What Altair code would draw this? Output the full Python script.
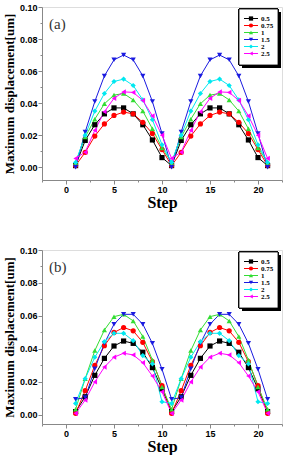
import altair as alt
import pandas as pd

# Step index shared by both panels
steps = list(range(1, 22))

series = ["0.5", "0.75", "1", "1.5", "2", "2.5"]
colors = ["#000000", "#ff0000", "#33dd33", "#1a1ae0", "#00e8f0", "#ff00ff"]
shapes = ["square", "circle", "triangle-up", "triangle-down", "diamond", "triangle-left"]

# Panel (a): maximum displacement [um] per step
a_05 = [0.001, 0.0167, 0.0265, 0.0333, 0.037, 0.037, 0.0333, 0.0265, 0.017, 0.006, 0.001,
        0.0167, 0.0265, 0.0333, 0.037, 0.037, 0.0333, 0.0265, 0.017, 0.006, 0.001]
a_075 = [0.001, 0.0093, 0.0194, 0.027, 0.0323, 0.0344, 0.0333, 0.028, 0.021, 0.011, 0.001,
         0.0093, 0.0194, 0.027, 0.0323, 0.0344, 0.0333, 0.028, 0.021, 0.011, 0.001]
a_1 = [0.003, 0.0188, 0.030, 0.0396, 0.045, 0.046, 0.042, 0.035, 0.024, 0.012, 0.003,
       0.0188, 0.030, 0.0396, 0.045, 0.046, 0.042, 0.035, 0.024, 0.012, 0.003]
a_15 = [0.0, 0.022, 0.041, 0.057, 0.067, 0.070, 0.067, 0.057, 0.041, 0.021, 0.0,
        0.022, 0.041, 0.057, 0.067, 0.070, 0.067, 0.057, 0.041, 0.021, 0.0]
a_2 = [0.003, 0.020, 0.035, 0.046, 0.0535, 0.055, 0.051, 0.042, 0.0296, 0.014, 0.003,
       0.020, 0.035, 0.046, 0.0535, 0.055, 0.051, 0.042, 0.0296, 0.014, 0.003]
a_25 = [0.0055, 0.0094, 0.023, 0.0346, 0.043, 0.047, 0.0467, 0.0417, 0.032, 0.020, 0.0055,
        0.0094, 0.023, 0.0346, 0.043, 0.047, 0.0467, 0.0417, 0.032, 0.020, 0.0055]

# Panel (b)
b_05 = [0.002, 0.011, 0.024, 0.0343, 0.0418, 0.0448, 0.0434, 0.038, 0.0287, 0.0158, 0.002,
        0.011, 0.024, 0.0343, 0.0418, 0.0448, 0.0434, 0.038, 0.0287, 0.0158, 0.002]
b_075 = [0.001, 0.0147, 0.030, 0.042, 0.050, 0.053, 0.051, 0.044, 0.0323, 0.0178, 0.001,
         0.0147, 0.030, 0.042, 0.050, 0.053, 0.051, 0.044, 0.0323, 0.0178, 0.001]
b_1 = [0.0034, 0.022, 0.039, 0.0515, 0.0596, 0.061, 0.057, 0.0475, 0.0333, 0.017, 0.0034,
       0.022, 0.039, 0.0515, 0.0596, 0.061, 0.057, 0.0475, 0.0333, 0.017, 0.0034]
b_15 = [0.0095, 0.0105, 0.028, 0.0434, 0.055, 0.061, 0.061, 0.055, 0.0434, 0.0277, 0.0095,
        0.0105, 0.028, 0.0434, 0.055, 0.061, 0.061, 0.055, 0.0434, 0.0277, 0.0095]
b_2 = [0.007, 0.022, 0.035, 0.0444, 0.0495, 0.0495, 0.045, 0.036, 0.031, 0.008, 0.007,
       0.022, 0.035, 0.0444, 0.0495, 0.0495, 0.045, 0.036, 0.031, 0.008, 0.007]
b_25 = [0.001, 0.009, 0.020, 0.029, 0.035, 0.0374, 0.0364, 0.0317, 0.0236, 0.014, 0.001,
        0.009, 0.020, 0.029, 0.035, 0.0374, 0.0364, 0.0317, 0.0236, 0.014, 0.001]

panel_a = [a_05, a_075, a_1, a_15, a_2, a_25]
panel_b = [b_05, b_075, b_1, b_15, b_2, b_25]

y_ticks = [0.0, 0.01, 0.02, 0.03, 0.04, 0.05, 0.06, 0.07, 0.08, 0.09, 0.10]
x_ticks = [-2.5, 0, 2.5, 5, 7.5, 10, 12.5, 15, 17.5, 20, 22.5]

W = 240
SERIF = "Liberation Serif"
SANS = "Liberation Sans"


def long_frame(values):
    rows = []
    for name, vals in zip(series, values):
        for s, v in zip(steps, vals):
            rows.append({"step": s, "series": name, "value": v})
    return pd.DataFrame(rows)


color_scale = alt.Scale(domain=series, range=colors)
shape_scale = alt.Scale(domain=series, range=shapes)

x_enc = alt.X(
    "step:Q",
    scale=alt.Scale(domain=[-2.5, 22.5], nice=False, zero=False),
    axis=alt.Axis(
        title="Step", values=x_ticks, grid=False,
        labelExpr="datum.value % 5 == 0 && datum.value >= 0 && datum.value <= 20 ? datum.label : ''",
        tickSize={"condition": {"test": "datum.value % 5 != 0", "value": 2}, "value": 4},
        titleFont=SERIF, titleFontWeight="bold", titleFontSize=16,
        titlePadding=0, labelPadding=1,
        labelFont=SANS, labelFontWeight="bold", labelFontSize=9,
    ),
)


def y_enc(y_min):
    return alt.Y(
        "value:Q",
        scale=alt.Scale(domain=[y_min, 0.10], nice=False, zero=False),
        axis=alt.Axis(
            title="Maximum displacement[um]", values=y_ticks, grid=False, format=".2f",
            labelExpr="round(datum.value * 100) % 2 == 0 ? format(datum.value, '.2f') : ''",
            tickSize={"condition": {"test": "round(datum.value * 100) % 2 == 1", "value": 2},
                      "value": 4},
            titleFont=SERIF, titleFontWeight="bold", titleFontSize=13,
            titlePadding=3, labelPadding=1,
            labelFont=SANS, labelFontWeight="bold", labelFontSize=9,
        ),
    )


legend_df = pd.DataFrame({"series": series})


def panel(values, tag, y_min, height):
    df = long_frame(values)
    base = alt.Chart(df)
    yy = y_enc(y_min)
    lines = base.mark_line(strokeWidth=1).encode(
        x=x_enc, y=yy,
        color=alt.Color("series:N", scale=color_scale, legend=None),
        detail="series:N",
    )
    pts = base.mark_point(filled=True, size=27, opacity=1).encode(
        x=x_enc, y=yy,
        color=alt.Color("series:N", scale=color_scale, legend=None),
        shape=alt.Shape("series:N", scale=shape_scale, legend=None),
    )
    data_layer = alt.layer(lines, pts)

    # boxed key with a drop shadow in the upper right
    lbase = alt.Chart(legend_df)
    row_y = alt.Y("series:N", scale=alt.Scale(domain=series, range=[8, 50]), axis=None)
    shadow = lbase.mark_rect(fill="black").encode(
        x=alt.value(200), x2=alt.value(239), y=alt.value(5), y2=alt.value(61))
    box = lbase.mark_rect(fill="white", stroke="black", strokeWidth=0.8).encode(
        x=alt.value(197), x2=alt.value(236), y=alt.value(2), y2=alt.value(58))
    key_line = lbase.mark_rule(strokeWidth=1).encode(
        x=alt.value(202), x2=alt.value(216), y=row_y,
        color=alt.Color("series:N", scale=color_scale, legend=None))
    key_pt = lbase.mark_point(filled=True, size=18, opacity=1).encode(
        x=alt.value(209), y=row_y,
        color=alt.Color("series:N", scale=color_scale, legend=None),
        shape=alt.Shape("series:N", scale=shape_scale, legend=None))
    key_txt = lbase.mark_text(
        align="left", baseline="middle", font=SERIF,
        fontWeight="bold", fontSize=7, color="black",
    ).encode(x=alt.value(219), y=row_y, text="series:N")
    key = alt.layer(shadow, box, key_line, key_pt, key_txt)

    label = alt.Chart(pd.DataFrame({"t": [tag]})).mark_text(
        align="left", baseline="middle", font=SERIF, fontSize=15, color="#333333",
    ).encode(x=alt.value(7), y=alt.value(17), text="t:N")

    return alt.layer(data_layer, key, label).resolve_scale(y="independent").properties(
        width=W, height=height)


chart = alt.vconcat(
    panel(panel_a, "(a)", -0.008, 173),
    panel(panel_b, "(b)", -0.0055, 174),
    spacing=34,
).properties(
    padding={"left": 2, "top": 2, "right": 4, "bottom": 0}
).configure_view(stroke="black", strokeWidth=1).configure_axis(
    domainColor="black", tickColor="black", labelColor="black", titleColor="black",
).configure(background="white")

chart.save("out.html", embed_options={"renderer": "svg", "actions": False})
